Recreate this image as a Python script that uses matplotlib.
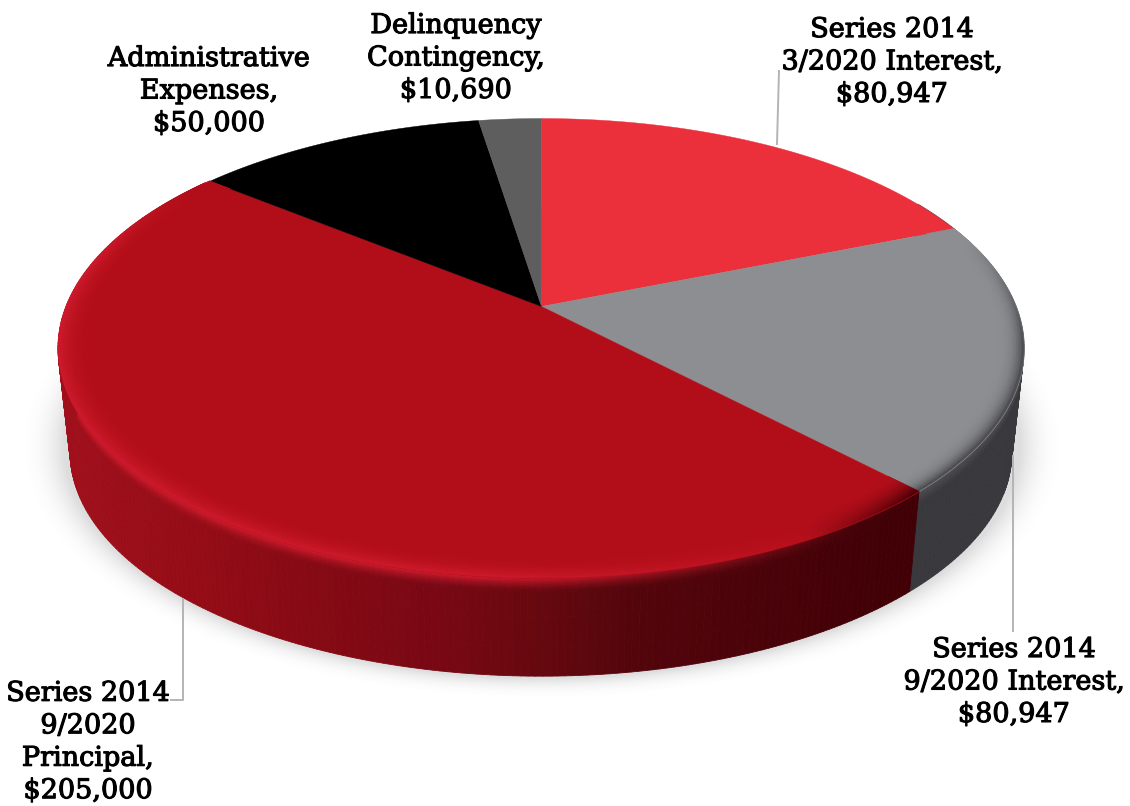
import numpy as np
import matplotlib
matplotlib.use('Agg')
import matplotlib.pyplot as plt
import matplotlib.patheffects as pe
from matplotlib.collections import PolyCollection
from matplotlib.colors import to_rgb

# values, clockwise from 12 o'clock
names = ['Series 2014\n3/2020 Interest', 'Series 2014\n9/2020 Interest', 'Series 2014\n9/2020\nPrincipal',
         'Administrative\nExpenses', 'Delinquency\nContingency']
values = [80947, 80947, 205000, 50000, 10690]
top_colors = ['#EB303C', '#8C8E91', '#B20E19', '#000000', '#5E5E5E']
label_x = [892, 1014, 88, 209, 456]
label_y = [62, 682, 742, 91, 58]

# pie geometry in pixels
CX, CY = 541, 306
K = 0.1826
A, B = 474.9, 222.3
DEPTH = 105
SHRINK = 0.025


def pt(th, r=1.0, z=0.0):
    u, v = r * np.sin(th), r * np.cos(th)
    w = 1 + K * v
    s = 1 - SHRINK * z
    return CX + s * A * u / w, CY + DEPTH * z - s * B * v / w


def mix(a, b, t):
    return tuple((1 - t) * np.array(a) + t * np.array(b))


def ramp(x, lo, hi):
    return float(np.clip((x - lo) / (hi - lo), 0, 1))


def red_wall(x):
    xs = [60, 200, 300, 440, 540, 630, 900]
    rs = [160, 148, 135, 120, 102, 84, 64]
    gs = [16, 12, 10, 8, 8, 5, 0]
    bs = [28, 22, 20, 20, 15, 12, 6]
    return (np.interp(x, xs, rs) / 255, np.interp(x, xs, gs) / 255, np.interp(x, xs, bs) / 255)


HIGHLIGHT = (0.80, 0.10, 0.17)


def glow(deg):
    return ramp(deg, 145, 185) * (1 - ramp(deg, 285, 306))


fig = plt.figure(figsize=(11.3, 8.06), dpi=100)
ax = fig.add_axes([0, 0, 1, 1])
ax.set_xlim(0, 1130)
ax.set_ylim(806, 0)
ax.axis('off')

# soft shadow under the disc
gx, gy = np.meshgrid(np.arange(0, 1130, 2), np.arange(0, 806, 2))
d = (np.sqrt(((gx - 541) / 478.0) ** 2 + ((gy - 445) / 232.0) ** 2) - 1) * 235
alpha = 0.24 * np.clip(1 - d / 24, 0, 1) ** 2.5
rgba = np.zeros(gx.shape + (4,))
rgba[..., :3] = 0.45
rgba[..., 3] = alpha
ax.imshow(rgba, extent=(0, 1130, 806, 0), aspect='auto', zorder=1, interpolation='bilinear')

edges = np.cumsum([0] + values) / sum(values) * 2 * np.pi
step = np.radians(0.75)
zs = np.concatenate([np.linspace(0, 0.14, 8), [0.4, 0.7, 1.0]])

wall_polys, wall_cols = [], []
for i in range(len(values)):
    ths = np.arange(edges[i], edges[i + 1] + step / 2, step)
    ths[-1] = edges[i + 1]
    for a0, a1 in zip(ths[:-1], ths[1:]):
        deg = np.degrees((a0 + a1) / 2)
        if deg < 60 or deg > 308:
            continue
        for z0, z1 in zip(zs[:-1], zs[1:]):
            x0, y0 = pt(a0, 1, z0)
            x1, y1 = pt(a1, 1, z0)
            x2, y2 = pt(a1, 1, z1)
            x3, y3 = pt(a0, 1, z1)
            fade = 1 - ramp(z0, 0, 0.13)
            if i == 2:
                c = red_wall((x0 + x1) / 2)
                c = mix(c, HIGHLIGHT, glow(deg) * fade ** 1.4)
            else:
                c = (0.225, 0.225, 0.24)
                c = mix(c, (0.30, 0.30, 0.32), fade)
            wall_polys.append([(x0, y0), (x1, y1), (x2, y2), (x3, y3)])
            wall_cols.append(c)
ax.add_collection(PolyCollection(wall_polys, facecolors=wall_cols, edgecolors=wall_cols, linewidths=0.6, zorder=2))

# top face
for i in range(len(values)):
    ths = np.linspace(edges[i], edges[i + 1], 200)
    xs, ys = pt(ths)
    poly = [(CX, CY)] + list(zip(xs, ys))
    ax.add_collection(PolyCollection([poly], facecolors=[top_colors[i]], edgecolors=[top_colors[i]],
                                     linewidths=0.3, zorder=3))

# bevel along the front rim
bevel_polys, bevel_cols = [], []
rs = np.linspace(0.93, 1.0, 15)
for i in (1, 2):
    base = to_rgb(top_colors[i])
    ths = np.arange(edges[i], edges[i + 1] + step / 2, step)
    ths[-1] = edges[i + 1]
    for a0, a1 in zip(ths[:-1], ths[1:]):
        deg = np.degrees((a0 + a1) / 2)
        for r0, r1 in zip(rs[:-1], rs[1:]):
            t = ramp(r0, rs[0], rs[-2]) ** 2
            if i == 2:
                c = mix(base, HIGHLIGHT, t * glow(deg))
                c = mix(c, (0.30, 0.0, 0.03), t * (1 - ramp(deg, 137, 152)))
            else:
                c = mix(base, (0.30, 0.30, 0.32), t ** 2 * ramp(deg, 72, 100))
            x0, y0 = pt(a0, r0)
            x1, y1 = pt(a1, r0)
            x2, y2 = pt(a1, r1)
            x3, y3 = pt(a0, r1)
            bevel_polys.append([(x0, y0), (x1, y1), (x2, y2), (x3, y3)])
            bevel_cols.append(c)
ax.add_collection(PolyCollection(bevel_polys, facecolors=bevel_cols, edgecolors=bevel_cols, linewidths=0.3, zorder=4))

# leader lines
line_col = '#b4b4b4'
ax.plot([777, 779], [144, 71], color=line_col, lw=1.4, zorder=2)
ax.plot([1013, 1013], [456, 631], color=line_col, lw=1.4, zorder=2)
ax.plot([183, 183, 171], [599, 700, 700], color=line_col, lw=1.4, zorder=2)

for name, val, x, y in zip(names, values, label_x, label_y):
    ax.text(x, y, f'{name},\n${val:,}', ha='center', va='center', ma='center', color='black',
            family='DejaVu Serif', fontsize=19.5, linespacing=1.26, zorder=6,
            path_effects=[pe.withStroke(linewidth=0.8, foreground='black')])

fig.savefig('out.png', dpi=100)
